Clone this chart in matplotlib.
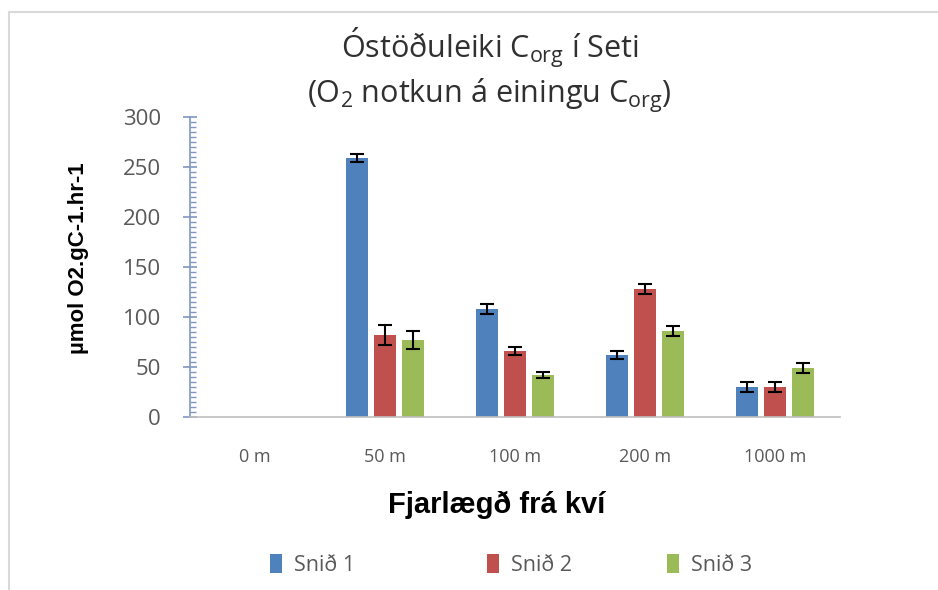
import matplotlib
matplotlib.use('Agg')
import numpy as np
from matplotlib import pyplot as plt
from matplotlib.patches import Rectangle
from matplotlib.ticker import MultipleLocator

plt.rcParams['font.family'] = ['Open Sans', 'DejaVu Sans']
plt.rcParams['mathtext.fontset'] = 'custom'
plt.rcParams['mathtext.rm'] = 'Open Sans'
plt.rcParams['mathtext.default'] = 'regular'

categories = ['0 m', '50 m', '100 m', '200 m', '1000 m']
series_names = ['Snið 1', 'Snið 2', 'Snið 3']
snid1 = [0, 259, 108, 62, 30]
snid2 = [0, 82, 66, 128, 30]
snid3 = [0, 77, 42, 86, 49]
snid1_err = [0, 4, 5, 4, 5]
snid2_err = [0, 10, 4, 5, 5]
snid3_err = [0, 9, 3, 5, 5]
colors = ['#4F81BD', '#C0504D', '#9BBB59']

values = [snid1, snid2, snid3]
errors = [snid1_err, snid2_err, snid3_err]

fig = plt.figure(figsize=(9.38, 5.9), dpi=100)
ax = fig.add_axes([0.2026, 0.2932, 0.6929, 0.5085])

# outer chart frame (light gray, like the Excel chart area)
fig.patches.append(Rectangle((9 / 938, -0.1), 1.2, (590 - 12) / 590 + 0.1,
                             transform=fig.transFigure, fill=False,
                             edgecolor='#D9D9D9', linewidth=1.5))

x = np.arange(len(categories))
width = 0.17
step = 0.215
handles = []
for i, (vals, errs) in enumerate(zip(values, errors)):
    pos = x + (i - 1) * step
    bars = ax.bar(pos, vals, width, color=colors[i], label=series_names[i], zorder=2)
    handles.append(bars)
    mask = np.array(vals) > 0
    ax.errorbar(pos[mask], np.array(vals)[mask], yerr=np.array(errs)[mask],
                fmt='none', ecolor='black', elinewidth=1.5, capsize=5,
                capthick=1.5, zorder=3)

ax.set_xlim(-0.5, len(categories) - 0.5)
ax.set_ylim(0, 300)
ax.yaxis.set_major_locator(MultipleLocator(50))
ax.yaxis.set_minor_locator(MultipleLocator(5))
ax.set_xticks(x)
ax.set_xticklabels(categories)

for side in ['top', 'right']:
    ax.spines[side].set_visible(False)
ax.spines['bottom'].set_color('#BFBFBF')
ax.spines['bottom'].set_linewidth(1.2)
ax.spines['left'].set_color('#8096C0')
ax.spines['left'].set_linewidth(1.2)

ax.tick_params(axis='x', length=0, pad=22, labelsize=13, labelcolor='#595959')
ax.tick_params(axis='y', which='major', direction='inout', length=10,
               color='#8096C0', width=1.2, pad=16, labelsize=16,
               labelcolor='#595959')
ax.tick_params(axis='y', which='minor', direction='in', length=4,
               color='#8096C0', width=1)

ax.set_ylabel('µmol O2.gC-1.hr-1', fontsize=16, fontweight='bold',
              family=['Liberation Sans'])
ax.yaxis.set_label_coords(-0.155, 0.53)
ax.set_xlabel('Fjarlægð frá kví', fontsize=21, fontweight='bold',
              family=['Liberation Sans'])
ax.xaxis.set_label_coords(0.472, -0.247)

fig.text(0.522, 0.918, 'Óstöðuleiki C$_{org}$ í Seti', ha='center', va='center',
         fontsize=22, color='#303030')
fig.text(0.522, 0.838, '(O$_2$ notkun á einingu C$_{org}$)', ha='center',
         va='center', fontsize=22, color='#303030')

# legend entries sit at uneven spacing in the original
legend_x = [270 / 938, 487 / 938, 667 / 938]
for h, name, lx in zip(handles, series_names, legend_x):
    fig.legend([h], [name], loc='center left', bbox_to_anchor=(lx, 0.042),
               frameon=False, fontsize=15.5, handlelength=0.55,
               handleheight=1.0, handletextpad=0.55, labelcolor='#595959',
               borderaxespad=0, borderpad=0)

fig.savefig('out.png', dpi=100)
